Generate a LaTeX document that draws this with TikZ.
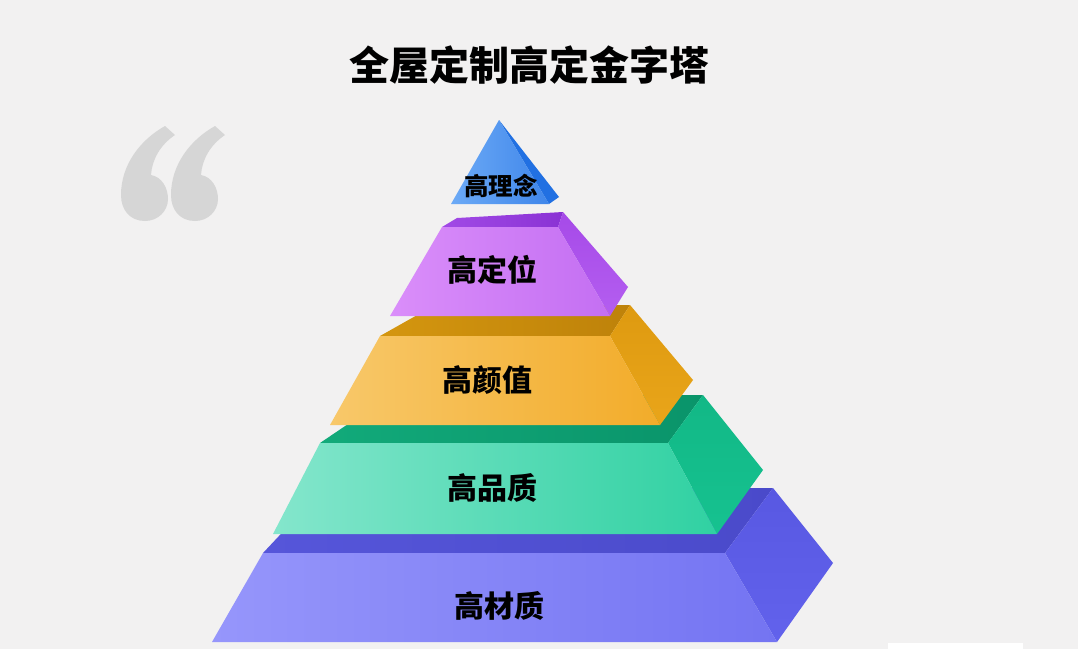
\documentclass[tikz,border=0pt]{standalone}
\usepackage{fontspec}
\newfontfamily\cjk{Noto Sans CJK SC}
\definecolor{bg}{HTML}{F2F1F1}
\definecolor{quotegray}{HTML}{D6D6D6}
% blue tip
\definecolor{tipL}{HTML}{6CAAF6}
\definecolor{tipR}{HTML}{3F86EA}
\definecolor{tipS}{HTML}{2170E2}
% purple
\definecolor{purL}{HTML}{DA8EFA}
\definecolor{purR}{HTML}{C46FF2}
\definecolor{purT}{HTML}{A24AE6}
\definecolor{purTd}{HTML}{8A32D4}
\definecolor{purS}{HTML}{A64AE8}
\definecolor{purSb}{HTML}{B45EF0}
% orange
\definecolor{oraL}{HTML}{F8C86A}
\definecolor{oraR}{HTML}{F2AC2A}
\definecolor{oraT}{HTML}{D4960F}
\definecolor{oraTd}{HTML}{BE820A}
\definecolor{oraS}{HTML}{DE9A10}
\definecolor{oraSb}{HTML}{E9A51A}
% green
\definecolor{grnL}{HTML}{84E6CC}
\definecolor{grnR}{HTML}{30D1A2}
\definecolor{grnT}{HTML}{12AA7A}
\definecolor{grnTd}{HTML}{0A946A}
\definecolor{grnS}{HTML}{12B886}
\definecolor{grnSb}{HTML}{16C290}
% violet
\definecolor{vioL}{HTML}{9696FB}
\definecolor{vioR}{HTML}{7474F2}
\definecolor{vioT}{HTML}{5656DA}
\definecolor{vioTd}{HTML}{4A4ACA}
\definecolor{vioS}{HTML}{5858E2}
\definecolor{vioSb}{HTML}{6262EC}
\begin{document}
\begin{tikzpicture}[x=1pt,y=-1pt,
  lbl/.style={font=\cjk\bfseries\fontsize{30}{30}\selectfont, text=black, inner sep=0pt},
  lblsmall/.style={font=\cjk\bfseries\fontsize{24.5}{25}\selectfont, text=black, inner sep=0pt},
  titlestyle/.style={font=\cjk\bfseries\fontsize{40}{40}\selectfont, text=black, inner sep=0pt}]
\fill[bg] (0,0) rectangle (1078,649);
\useasboundingbox (0,0) rectangle (1078,649);

% quote mark
\foreach \dx in {0,50}{
  \fill[quotegray, shift={(\dx,0)}] (165,126) -- (175,135)
    .. controls (160,145) and (152,160) .. (151,175)
    .. controls (162,177) and (168,188) .. (168,199)
    .. controls (168,211) and (158,221) .. (145,221)
    .. controls (130,221) and (121,210) .. (121,195)
    .. controls (121,165) and (140,140) .. (165,126) -- cycle;
}

% white strip bottom right
\fill[white] (888,643) rectangle (1023,649);

% title
\node[titlestyle] (title) at (529,65) {全屋定制高定金字塔};

% ---- layer 1: violet ----
\shade[left color=vioT, right color=vioTd] (263,553) -- (725,553) -- (773,488) -- (324,488) -- cycle;
\shade[top color=vioS, bottom color=vioSb] (725,553) -- (773,488) -- (833,563) -- (777,642) -- cycle;
\shade[left color=vioL, right color=vioR] (212,642) -- (777,642) -- (725,553) -- (263,553) -- cycle;

% ---- layer 2: green ----
\shade[left color=grnT, right color=grnTd] (320,443) -- (668,443) -- (703,395) -- (391,395) -- cycle;
\shade[top color=grnS, bottom color=grnSb] (668,443) -- (703,395) -- (763,470) -- (717,534) -- cycle;
\shade[left color=grnL, right color=grnR] (273,534) -- (717,534) -- (668,443) -- (320,443) -- cycle;

% ---- layer 3: orange ----
\shade[left color=oraT, right color=oraTd] (380,336) -- (610,336) -- (630,305) -- (435,305) -- cycle;
\shade[top color=oraS, bottom color=oraSb] (610,336) -- (630,305) -- (693,380) -- (660,425) -- cycle;
\shade[left color=oraL, right color=oraR] (330,425) -- (660,425) -- (610,336) -- (380,336) -- cycle;

% ---- layer 4: purple ----
\shade[left color=purT, right color=purTd] (442,227) -- (558,227) -- (563,212) -- (457,218) -- cycle;
\shade[top color=purS, bottom color=purSb] (558,227) -- (563,212) -- (628,287) -- (610,316) -- cycle;
\shade[left color=purL, right color=purR] (390,316) -- (610,316) -- (558,227) -- (442,227) -- cycle;

% ---- layer 5: blue tip ----
\fill[tipS] (499,120) -- (559,197) -- (549,204) -- cycle;
\shade[left color=tipL, right color=tipR] (451,204) -- (549,204) -- (499,120) -- cycle;

% labels
\node[lblsmall] (l5) at (501,186) {高理念};
\node[lbl] (l4) at (492,270) {高定位};
\node[lbl] (l3) at (487,380) {高颜值};
\node[lbl] (l2) at (492,488) {高品质};
\node[lbl] (l1) at (499,606) {高材质};
\end{tikzpicture}
\end{document}
